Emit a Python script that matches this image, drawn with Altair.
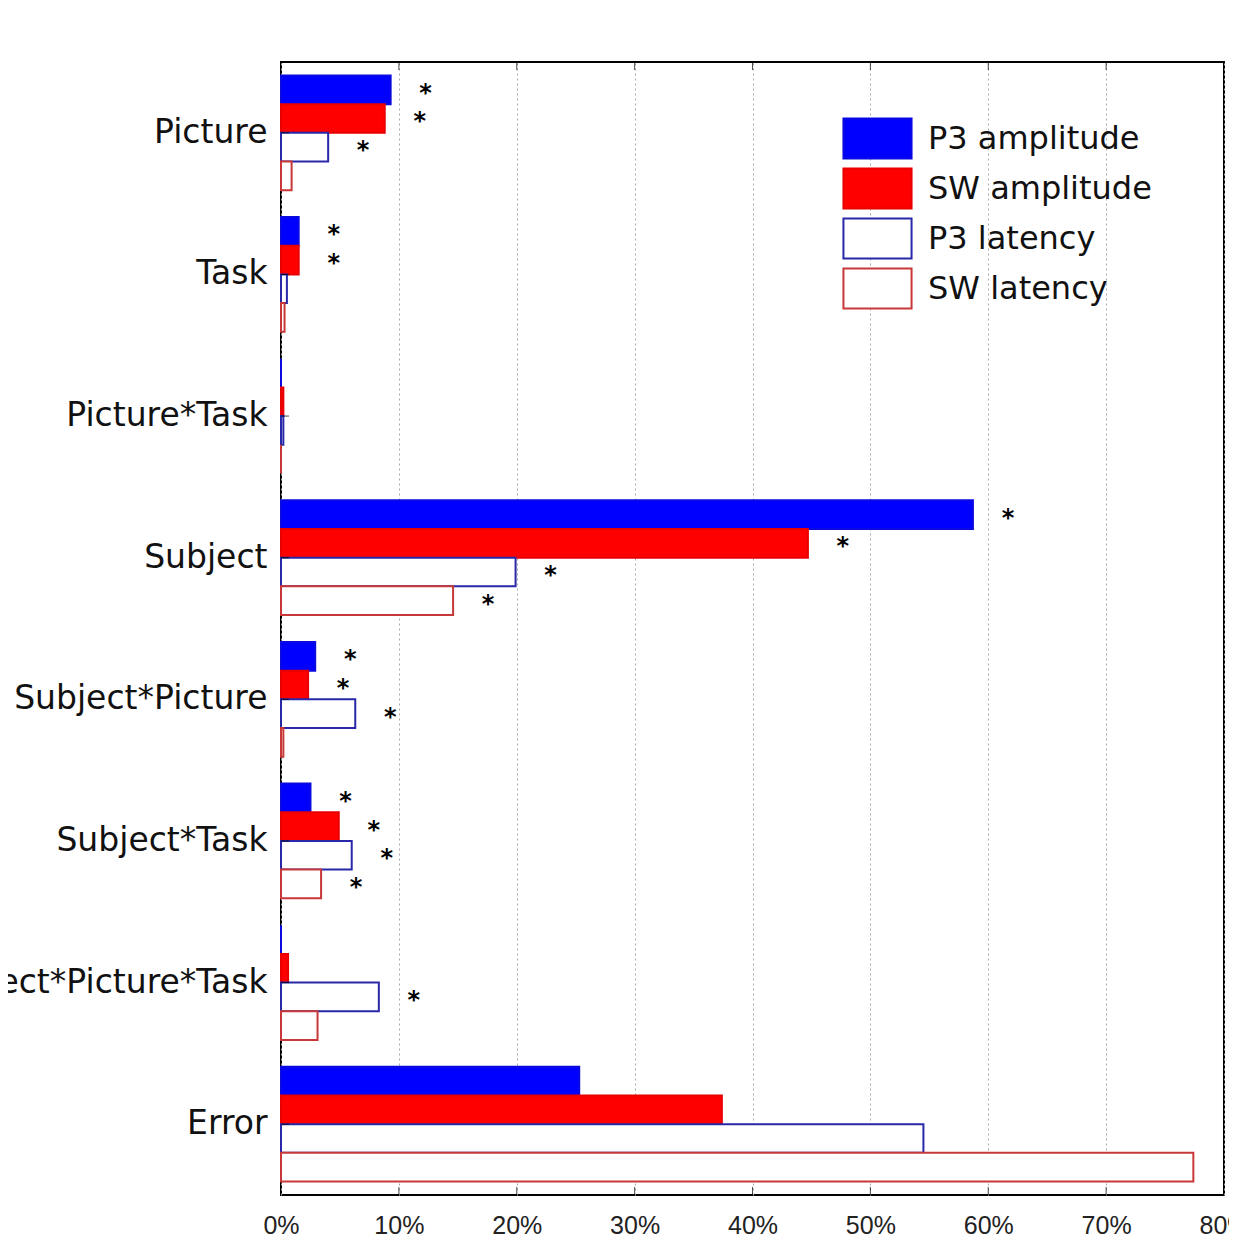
import altair as alt
import pandas as pd

factors = ["Picture", "Task", "Picture*Task", "Subject", "Subject*Picture",
           "Subject*Task", "Subject*Picture*Task", "Error"]
measures = ["P3 amplitude", "SW amplitude", "P3 latency", "SW latency"]

p3_amp = [9.3, 1.5, 0.0, 58.7, 2.9, 2.5, 0.0, 25.3]
sw_amp = [8.8, 1.5, 0.2, 44.7, 2.3, 4.9, 0.6, 37.4]
p3_lat = [4.0, 0.5, 0.2, 19.9, 6.3, 6.0, 8.3, 54.5]
sw_lat = [0.9, 0.3, 0.0, 14.6, 0.2, 3.4, 3.1, 77.4]

p3_amp_sig = [1, 1, 0, 1, 1, 1, 0, 0]
sw_amp_sig = [1, 1, 0, 1, 1, 1, 0, 0]
p3_lat_sig = [1, 0, 0, 1, 1, 1, 1, 0]
sw_lat_sig = [0, 0, 0, 1, 0, 1, 0, 0]

x_ticks = [0, 10, 20, 30, 40, 50, 60, 70, 80]

fill_colors = ["#0000ff", "#ff0000", "#ffffff", "#ffffff"]
stroke_colors = ["#0a0ae0", "#e80000", "#2828a8", "#c83838"]

rows = []
for vals, sigs, m in [(p3_amp, p3_amp_sig, measures[0]), (sw_amp, sw_amp_sig, measures[1]),
                      (p3_lat, p3_lat_sig, measures[2]), (sw_lat, sw_lat_sig, measures[3])]:
    for f, v, s in zip(factors, vals, sigs):
        rows.append({"factor": f, "measure": m, "value": v, "sig": s})
df = pd.DataFrame(rows)
ticks_df = pd.DataFrame({"t": x_ticks[1:-1]})
fac_df = pd.DataFrame({"factor": factors})

W, H = 943, 1133

xscale = alt.Scale(domain=[0, 80], nice=False, zero=True)
yscale = alt.Scale(domain=factors, paddingInner=0.19, paddingOuter=0.095)

legend = alt.Legend(
    title=None, orient="none", legendX=571, legendY=51,
    symbolType="M-1.39,-0.82H1.39V0.82H-1.39Z", symbolSize=2401,
    symbolStrokeWidth=2, labelFont="DejaVu Sans", labelFontSize=32,
    labelColor="#111111", labelOffset=25, rowPadding=0, padding=0,
    labelLimit=500,
)

base = alt.Chart(df)

bars = base.mark_bar(strokeWidth=2).encode(
    y=alt.Y("factor:N", scale=yscale, sort=factors,
            axis=alt.Axis(title=None, labelFont="DejaVu Sans", labelFontSize=33,
                          labelColor="#111111", labelPadding=14, labelLimit=1000,
                          ticks=False, domain=False)),
    yOffset=alt.YOffset("measure:N", sort=measures,
                        scale=alt.Scale(domain=measures, paddingInner=0, paddingOuter=0)),
    x=alt.X("value:Q", scale=xscale,
            axis=alt.Axis(title=None, values=x_ticks, labelExpr="datum.value + '%'",
                          labelFont="Liberation Sans", labelFontSize=25,
                          labelColor="#222222", labelPadding=18, ticks=False,
                          labelFlush=False,
                          domain=False, grid=True, gridDash=[2, 3],
                          gridColor="#a8a8a8", gridWidth=1)),
    fill=alt.Fill("measure:N", sort=measures,
                  scale=alt.Scale(domain=measures, range=fill_colors), legend=legend),
    stroke=alt.Stroke("measure:N", sort=measures,
                      scale=alt.Scale(domain=measures, range=stroke_colors), legend=legend),
)

stars = base.transform_filter("datum.sig == 1").mark_text(
    text="*", font="DejaVu Sans", fontWeight="bold", fontSize=24,
    align="center", baseline="middle", dx=35, dy=4, color="#000000",
).encode(
    y=alt.Y("factor:N", scale=yscale, sort=factors),
    yOffset=alt.YOffset("measure:N", sort=measures),
    x=alt.X("value:Q", scale=xscale),
)

ticks_bottom = alt.Chart(ticks_df).mark_tick(
    orient="vertical", size=8, thickness=1, color="#000000"
).encode(x=alt.X("t:Q", scale=xscale), y=alt.value(H - 4))

ticks_top = alt.Chart(ticks_df).mark_tick(
    orient="vertical", size=8, thickness=1, color="#000000"
).encode(x=alt.X("t:Q", scale=xscale), y=alt.value(4))

ticks_left = alt.Chart(fac_df).mark_tick(
    orient="horizontal", size=8, thickness=1, color="#000000"
).encode(y=alt.Y("factor:N", scale=yscale, sort=factors), x=alt.value(4))

chart = alt.layer(bars, stars, ticks_bottom, ticks_top, ticks_left).properties(
    width=W, height=H,
    autosize=alt.AutoSizeParams(type="none"),
    padding={"left": 273, "top": 54, "right": 5, "bottom": 45},
).configure_view(
    stroke="#000000", strokeWidth=2
)

chart.save("out.html", embed_options={"renderer": "svg", "actions": False})
